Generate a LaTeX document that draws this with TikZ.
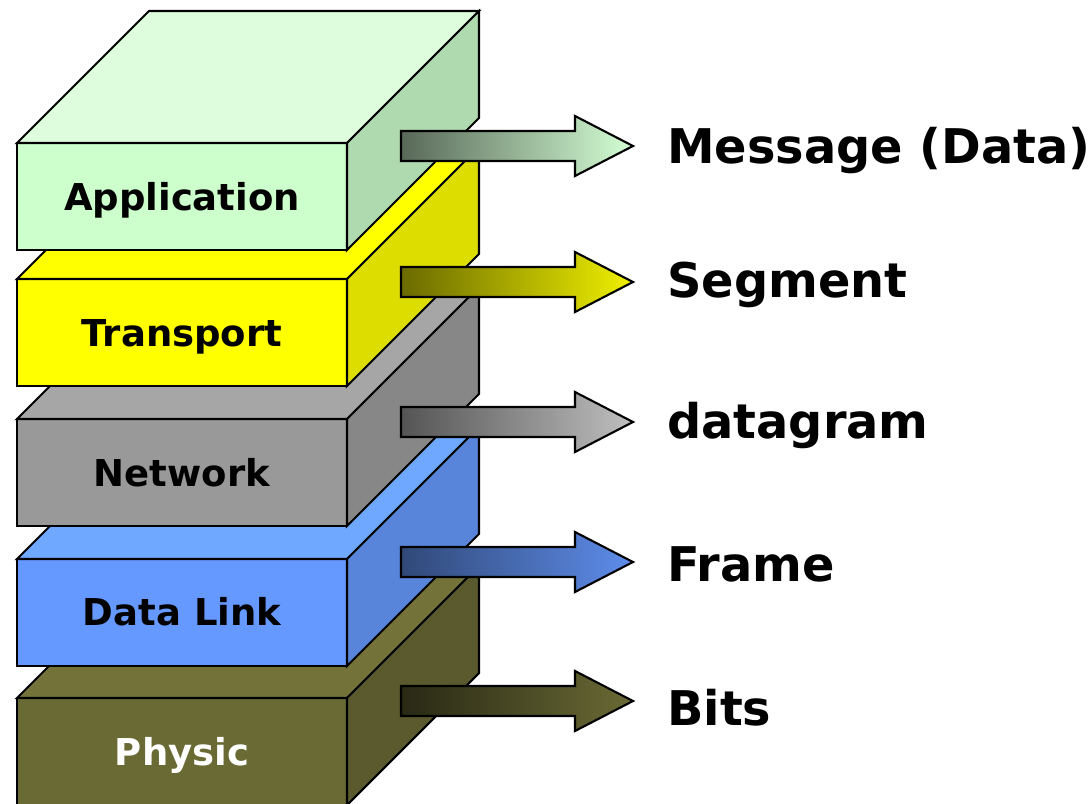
\documentclass[tikz,border=0pt]{standalone}
\usepackage{fontspec}
\setmainfont{DejaVu Sans}
\definecolor{appFront}{HTML}{CCFFCC}
\definecolor{appTop}{HTML}{DDFDDD}
\definecolor{appSide}{HTML}{AFDAAF}
\definecolor{trFront}{HTML}{FFFF00}
\definecolor{trTop}{HTML}{FFFF00}
\definecolor{trSide}{HTML}{DDDD00}
\definecolor{netFront}{HTML}{999999}
\definecolor{netTop}{HTML}{A6A6A6}
\definecolor{netSide}{HTML}{878787}
\definecolor{dlFront}{HTML}{6699FF}
\definecolor{dlTop}{HTML}{6FA8FF}
\definecolor{dlSide}{HTML}{5884DA}
\definecolor{phFront}{HTML}{6A6A35}
\definecolor{phTop}{HTML}{737339}
\definecolor{phSide}{HTML}{5A5A2E}
\tikzset{
  face/.style={draw=black,line width=2.1pt},
  pdu/.style={draw=black,line width=2.1pt},
  layername/.style={anchor=base,inner sep=0pt,font=\fontsize{37}{44}\selectfont\bfseries},
  pduname/.style={anchor=base west,inner sep=0pt,font=\fontsize{47.8}{56}\selectfont\bfseries}
}
\begin{document}
\begin{tikzpicture}[x=1pt,y=-1pt]
\useasboundingbox (0,0) rectangle (1092,803);
\clip (0,0) rectangle (1092,803);
% physic
\draw[face,fill=phFront] (17,698) rectangle (347,805);
\draw[face,fill=phTop] (17,698) -- ++(132,-132) -- ++(330,0) -- ++(-132,132) -- cycle;
\draw[face,fill=phSide] (347,698) -- ++(132,-132) -- ++(0,107) -- ++(-132,132) -- cycle;
% data link
\draw[face,fill=dlFront] (17,559) rectangle (347,666);
\draw[face,fill=dlTop] (17,559) -- ++(132,-132) -- ++(330,0) -- ++(-132,132) -- cycle;
\draw[face,fill=dlSide] (347,559) -- ++(132,-132) -- ++(0,107) -- ++(-132,132) -- cycle;
% network
\draw[face,fill=netFront] (17,419) rectangle (347,526);
\draw[face,fill=netTop] (17,419) -- ++(132,-132) -- ++(330,0) -- ++(-132,132) -- cycle;
\draw[face,fill=netSide] (347,419) -- ++(132,-132) -- ++(0,107) -- ++(-132,132) -- cycle;
% transport
\draw[face,fill=trFront] (17,279) rectangle (347,386);
\draw[face,fill=trTop] (17,279) -- ++(132,-132) -- ++(330,0) -- ++(-132,132) -- cycle;
\draw[face,fill=trSide] (347,279) -- ++(132,-132) -- ++(0,107) -- ++(-132,132) -- cycle;
% application
\draw[face,fill=appFront] (17,143) rectangle (347,250);
\draw[face,fill=appTop] (17,143) -- ++(132,-132) -- ++(330,0) -- ++(-132,132) -- cycle;
\draw[face,fill=appSide] (347,143) -- ++(132,-132) -- ++(0,107) -- ++(-132,132) -- cycle;
% arrows
\shadedraw[pdu,left color=appSide!45!black!80!gray,right color=appFront!90!green!60!white] (401,131) -- ++(174,0) -- ++(0,-15) -- ++(58,30) -- ++(-58,30) -- ++(0,-15) -- ++(-174,0) -- cycle;
\shadedraw[pdu,left color=trSide!48!black,right color=yellow!94!black] (401,267) -- ++(174,0) -- ++(0,-15) -- ++(58,30) -- ++(-58,30) -- ++(0,-15) -- ++(-174,0) -- cycle;
\shadedraw[pdu,left color=black!67,right color=black!25] (401,407) -- ++(174,0) -- ++(0,-15) -- ++(58,30) -- ++(-58,30) -- ++(0,-15) -- ++(-174,0) -- cycle;
\shadedraw[pdu,left color=dlSide!55!black,right color=dlFront!92!black] (401,547) -- ++(174,0) -- ++(0,-15) -- ++(58,30) -- ++(-58,30) -- ++(0,-15) -- ++(-174,0) -- cycle;
\shadedraw[pdu,left color=phSide!45!black,right color=phFront] (401,686) -- ++(174,0) -- ++(0,-15) -- ++(58,30) -- ++(-58,30) -- ++(0,-15) -- ++(-174,0) -- cycle;
% layer names
\node[layername] (app) at (182,210) {Application};
\node[layername] (tr) at (182,346) {Transport};
\node[layername] (net) at (182,486) {Network};
\node[layername] (dl) at (182,625) {Data Link};
\node[layername,white] (ph) at (182,765) {Physic};
% pdu names
\node[pduname] (msg) at (667,163) {Message (Data)};
\node[pduname] (seg) at (667,297) {Segment};
\node[pduname] (dgram) at (667,438) {datagram};
\node[pduname] (frm) at (667,581) {Frame};
\node[pduname] (bits) at (667,725) {Bits};
\end{tikzpicture}
\end{document}
